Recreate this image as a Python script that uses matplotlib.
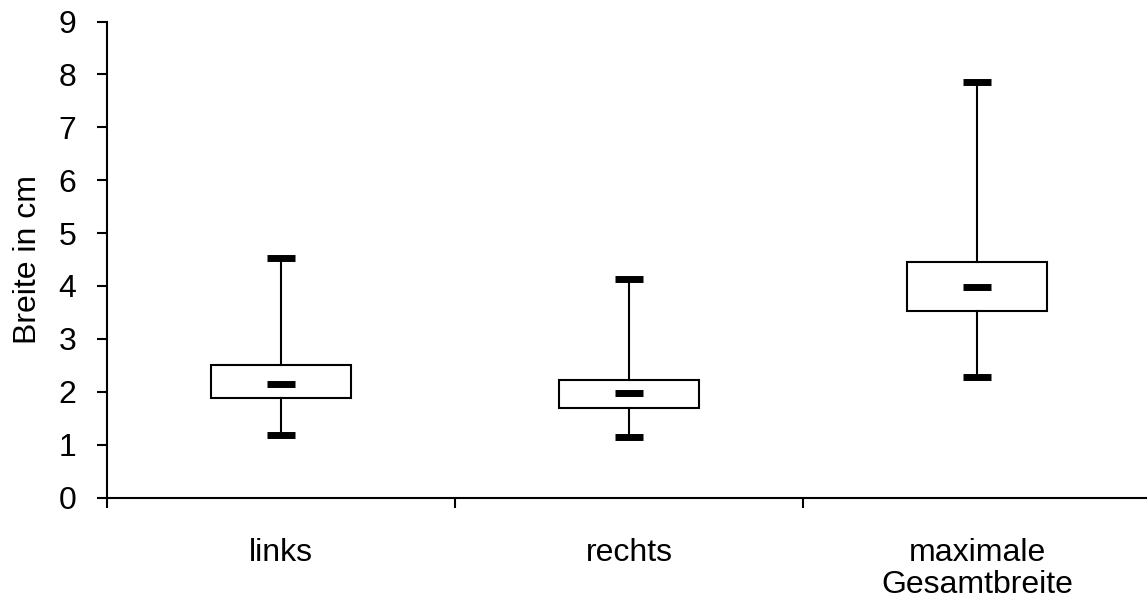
import numpy as np
import matplotlib.pyplot as plt

plt.rcParams['font.family'] = ['Liberation Sans', 'DejaVu Sans']

# box plot values (cm)
categories = ['links', 'rechts', 'maximale\nGesamtbreite']
whisker_low = [1.18, 1.15, 2.27]
quart_low = [1.88, 1.69, 3.52]
medians = [2.15, 1.98, 3.98]
quart_high = [2.50, 2.23, 4.46]
whisker_high = [4.53, 4.14, 7.86]

y_ticks = np.arange(0, 10, 1)

stats = []
for i, name in enumerate(categories):
    stats.append(dict(label=name, whislo=whisker_low[i], q1=quart_low[i], med=medians[i],
                      q3=quart_high[i], whishi=whisker_high[i], fliers=[]))

fig = plt.figure(figsize=(11.47, 5.99), dpi=100)
ax = fig.add_axes([107 / 1147, 101.5 / 599, 1044 / 1147, 476 / 599])

pos = np.arange(1, len(categories) + 1)
ax.bxp(stats, positions=pos, widths=0.402, capwidths=0.08, showfliers=False,
       patch_artist=True, manage_ticks=False,
       boxprops=dict(facecolor='white', edgecolor='black', linewidth=1.5),
       whiskerprops=dict(color='black', linewidth=1.5),
       capprops=dict(color='black', linewidth=5, solid_capstyle='butt'),
       medianprops=dict(visible=False))
ax.hlines(medians, pos - 0.04, pos + 0.04, color='black', linewidth=5, capstyle='butt', zorder=5)

ax.set_xlim(0.5, len(categories) + 0.5)
ax.set_ylim(0, 9)
ax.set_yticks(y_ticks)
ax.set_yticklabels([str(v) for v in y_ticks], fontsize=23)
ax.set_ylabel('Breite in cm', fontsize=23)
ax.yaxis.set_label_coords(-0.061, 0.5)

# ticks at category boundaries, labels in the middle
ax.set_xticks(np.arange(0.5, len(categories) + 1, 1))
ax.set_xticklabels([])
ax.set_xticks(pos, minor=True)
ax.set_xticklabels(categories, minor=True, fontsize=23, linespacing=1.1)
ax.tick_params(axis='x', which='minor', length=0, pad=29)
ax.tick_params(axis='x', which='major', length=7.2, width=1.5, direction='out')
ax.tick_params(axis='y', length=7.2, width=1.5, direction='out', pad=15)

for side in ['top', 'right']:
    ax.spines[side].set_visible(False)
for side in ['left', 'bottom']:
    ax.spines[side].set_linewidth(1.5)
ax.spines['bottom'].set_clip_on(False)

fig.savefig('out.png', dpi=100)
